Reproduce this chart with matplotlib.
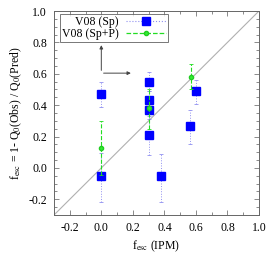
import numpy as np
import matplotlib
matplotlib.use("Agg")
import matplotlib.pyplot as plt
from matplotlib.ticker import MultipleLocator

plt.rcParams['font.family'] = ['Liberation Serif', 'DejaVu Serif']
plt.rcParams['mathtext.fontset'] = 'stix'
plt.rcParams['font.size'] = 8.5

# V08 (Sp)
sp_x = [0.0, 0.0, 0.30, 0.30, 0.30, 0.30, 0.38, 0.56, 0.60]
sp_y = [0.47, -0.05, 0.55, 0.43, 0.37, 0.21, -0.05, 0.27, 0.49]
sp_lo = [0.39, -0.22, 0.49, 0.37, 0.31, 0.08, -0.22, 0.15, 0.41]
sp_hi = [0.545, 0.095, 0.61, 0.49, 0.43, 0.33, 0.09, 0.37, 0.56]

# V08 (Sp+P)
spp_x = [0.0, 0.30, 0.57]
spp_y = [0.13, 0.38, 0.58]
spp_lo = [-0.045, 0.25, 0.50]
spp_hi = [0.30, 0.505, 0.665]

fig = plt.figure(figsize=(2.76, 2.58), dpi=100)
ax = fig.add_axes([54/276, 43/258, 205/276, 204/258])

ax.plot([-0.3, 1.0], [-0.3, 1.0], c='#b0b0b0', lw=0.8, zorder=1)

sp_err = [np.array(sp_y) - np.array(sp_lo), np.array(sp_hi) - np.array(sp_y)]
e1 = ax.errorbar(sp_x, sp_y, yerr=sp_err, fmt='s', ms=5.5, mfc='#0000ff', mec='#0000ff',
                 ecolor='#9090f0', elinewidth=0.7, capsize=1.5, capthick=0.6,
                 ls='none', zorder=2, label='V08 (Sp)')
e1[2][0].set_linestyle(':')

spp_err = [np.array(spp_y) - np.array(spp_lo), np.array(spp_hi) - np.array(spp_y)]
e2 = ax.errorbar(spp_x, spp_y, yerr=spp_err, fmt='o', ms=3, mfc='#33ee33', mec='#22cc22',
                 ecolor='#22dd22', elinewidth=0.8, capsize=1.5, capthick=0.6,
                 ls='none', zorder=3, label='V08 (Sp+P)')
e2[2][0].set_linestyle('--')

# legend handles with lines
h1, = ax.plot([], [], ls=':', c='#9090f0', marker='s', ms=5.5, mfc='#0000ff', mec='#0000ff', lw=0.8)
h2, = ax.plot([], [], ls='--', c='#22dd22', marker='o', ms=3, mfc='#33ee33', mec='#22cc22', lw=0.9)
leg = ax.legend([h1, h2], ['V08 (Sp)', 'V08 (Sp+P)'], loc='upper left', markerfirst=False,
                frameon=True, fancybox=False, edgecolor='#555555', handlelength=3.4,
                borderpad=0.15, labelspacing=0.0, handletextpad=0.6,
                bbox_to_anchor=(0.025, 0.99), borderaxespad=0.1)
leg.get_frame().set_linewidth(0.7)

ax.annotate('', xy=(0.0, 0.80), xytext=(0.0, 0.604),
            arrowprops=dict(arrowstyle='-|>', color='#444444', lw=0.7, mutation_scale=5))
ax.annotate('', xy=(0.205, 0.604), xytext=(-0.003, 0.604),
            arrowprops=dict(arrowstyle='-|>', color='#444444', lw=0.7, mutation_scale=5))

ax.set_xlim(-0.3, 1.0)
ax.set_ylim(-0.3, 1.0)
ax.xaxis.set_minor_locator(MultipleLocator(0.1))
ax.yaxis.set_minor_locator(MultipleLocator(0.05))
ax.set_xticks([-0.2, 0.0, 0.2, 0.4, 0.6, 0.8, 1.0])
ax.set_xticklabels(['-0.2', '0.0', '0.2', '0.4', '0.6', '0.8', '1.0'])
ax.set_yticks([-0.2, 0.0, 0.2, 0.4, 0.6, 0.8, 1.0])
ax.set_yticklabels(['-0.2', '0.0', '0.2', '0.4', '0.6', '0.8', '1.0'])
ax.tick_params(which='both', direction='in', top=True, right=True, color='#777777', width=0.6)
ax.tick_params(which='major', length=3.5, pad=5)
ax.tick_params(which='minor', length=2)
for s in ax.spines.values():
    s.set_color('#666666')
    s.set_linewidth(0.7)

ax.set_xlabel(r'f$_{\rm esc}$ (IPM)', labelpad=3)
ax.set_ylabel(r'f$_{\rm esc}$ = 1- Q$_0$(Obs) / Q$_0$(Pred)', labelpad=3)

fig.savefig('out.png', dpi=100)
